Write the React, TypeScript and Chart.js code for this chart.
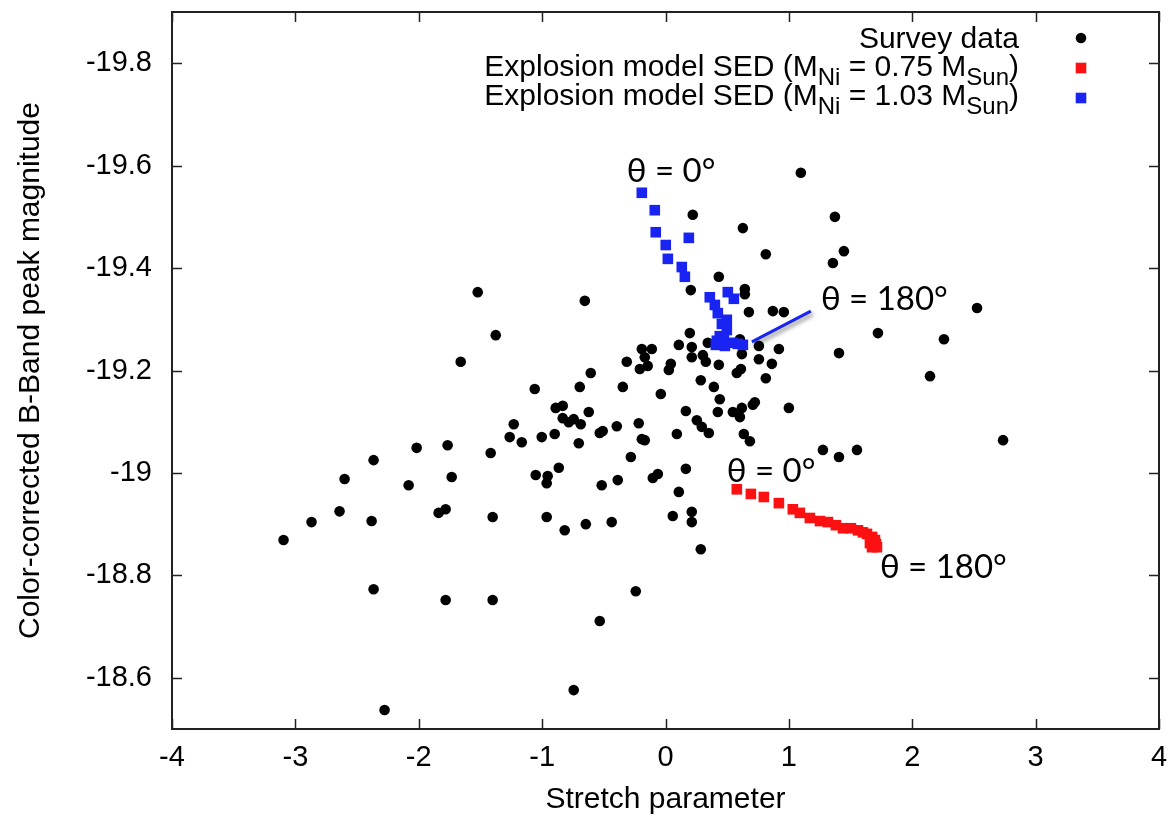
import { useEffect, useRef } from "react";
import { Chart, registerables } from "chart.js";

Chart.register(...registerables);

// ---------------- data ----------------
const SURVEY_X = [
  -1.522, -0.654, -1.376, -1.66, -0.192, -0.111, -0.168, -0.314, -0.606, -0.208,
  -0.144, -1.06, -0.695, -0.346, -0.038, -0.89, -0.833, -0.833, -0.784, -0.744,
  -0.687, -0.622, -1.23, -1.263, -1.165, -1.003, -0.898, -0.703, -0.533, -0.509,
  -0.395, -0.217, -0.192, -0.168, -0.281, -1.417, -2.017, -1.766, -2.366, -2.601,
  -2.082, -1.733, -1.052, -0.955, -0.963, -0.865, -0.517, -0.387, -0.103, -0.062,
  -3.096, -2.869, -2.642, -2.382, -1.839, -1.782, -1.401, -0.963, -0.817, -0.646,
  -0.436, 0.059, 0.213, 0.213, 0.286, -2.366, -1.782, -1.401, -0.241, -0.533,
  -0.744, -2.277, 0.197, 0.108, 0.213, 0.213, 0.343, 0.603, 0.619, 0.757,
  0.919, 0.757, 0.862, 0.303, 0.327, 0.432, 0.578, 0.611, 0.043, 0.027,
  0.286, 0.813, 0.392, 0.44, 0.708, 0.724, 1.0, 0.165, 0.254, 0.294,
  0.351, 0.424, 0.546, 0.619, 0.603, 0.635, 0.684, 0.092, 0.165, 0.108,
  1.276, 1.406, 1.552, 2.736, 2.144, 1.097, 0.221, 1.373, 0.627, 0.813,
  1.446, 1.357, 0.432, 0.205, 0.643, 0.643, 0.676, 0.87, 0.959, 2.525,
  1.722, 2.257, 1.406,
];
const SURVEY_Y = [
  -19.353, -19.336, -19.269, -19.217, -19.242, -19.242, -19.226, -19.217, -19.195, -19.203,
  -19.209, -19.164, -19.168, -19.168, -19.154, -19.127, -19.131, -19.107, -19.099, -19.105,
  -19.095, -19.119, -19.095, -19.07, -19.06, -19.07, -19.076, -19.058, -19.078, -19.082,
  -19.091, -19.097, -19.066, -19.064, -19.031, -19.039, -19.049, -19.054, -19.025, -18.988,
  -18.976, -18.992, -18.996, -18.994, -18.98, -19.01, -18.976, -18.986, -18.99, -18.998,
  -18.869, -18.904, -18.925, -18.906, -18.922, -18.929, -18.914, -18.914, -18.888, -18.9,
  -18.904, -18.916, -18.924, -18.904, -18.851, -18.773, -18.752, -18.752, -18.769, -18.711,
  -18.576, -18.537, -19.273, -19.25, -19.246, -19.226, -19.254, -19.261, -19.232, -19.248,
  -19.242, -19.222, -19.213, -19.23, -19.217, -19.211, -19.195, -19.203, -19.213, -19.201,
  -19.181, -19.185, -19.168, -19.144, -19.133, -19.138, -19.127, -19.121, -19.103, -19.09,
  -19.078, -19.119, -19.119, -19.127, -19.109, -19.076, -19.062, -19.076, -19.008, -18.963,
  -19.045, -19.031, -19.045, -19.064, -19.189, -19.586, -19.504, -19.5, -19.478, -19.427,
  -19.433, -19.41, -19.383, -19.357, -19.359, -19.349, -19.314, -19.316, -19.314, -19.322,
  -19.273, -19.261, -19.234,
];

const MODEL_075_X = [
  0.578, 0.692, 0.797, 0.919, 1.032, 1.089, 1.17, 1.252, 1.316, 1.381, 1.438,
  1.503, 1.56, 1.6, 1.633, 1.674, 1.698, 1.657, 1.706, 1.674, 1.714,
];
const MODEL_075_Y = [
  -18.968, -18.959, -18.953, -18.941, -18.929, -18.922, -18.912, -18.906, -18.904, -18.898, -18.892,
  -18.892, -18.888, -18.884, -18.881, -18.875, -18.869, -18.863, -18.861, -18.855, -18.855,
];

const MODEL_103_X = [
  -0.192, -0.087, -0.079, 0.189, 0.002, 0.019, 0.132, 0.157, 0.505, 0.359, 0.554, 0.4,
  0.424, 0.497, 0.457, 0.497, 0.44, 0.473, 0.416, 0.546, 0.627, 0.586, 0.408, 0.481,
];
const MODEL_103_Y = [
  -19.547, -19.513, -19.47, -19.459, -19.445, -19.418, -19.402, -19.383, -19.353, -19.343, -19.34, -19.328,
  -19.312, -19.299, -19.291, -19.279, -19.267, -19.261, -19.258, -19.254, -19.25, -19.252, -19.25, -19.248,
];

const X_TICKS = [-4, -3, -2, -1, 0, 1, 2, 3, 4];
const Y_TICKS = [-19.8, -19.6, -19.4, -19.2, -19, -18.8, -18.6];
const Y_TICK_LABELS = ["-19.8", "-19.6", "-19.4", "-19.2", "-19", "-18.8", "-18.6"];

const X_TITLE = "Stretch parameter";
const Y_TITLE = "Color-corrected B-Band peak magnitude";
const LEGEND_SURVEY = "Survey data";
const LEGEND_075 = [
  { t: "Explosion model SED (M", sub: false },
  { t: "Ni", sub: true },
  { t: " = 0.75 M", sub: false },
  { t: "Sun", sub: true },
  { t: ")", sub: false },
];
const LEGEND_103 = [
  { t: "Explosion model SED (M", sub: false },
  { t: "Ni", sub: true },
  { t: " = 1.03 M", sub: false },
  { t: "Sun", sub: true },
  { t: ")", sub: false },
];

// annotation anchors (data coordinates): text left / baseline
const ANNOTATIONS = [
  { text: "θ = 0°", x: -0.314, y: -19.568 },
  { text: "θ = 180°", x: 1.26, y: -19.318 },
  { text: "θ = 0°", x: 0.497, y: -18.982 },
  { text: "θ = 180°", x: 1.738, y: -18.795 },
];
const POINTER_LINE = { x1: 0.7, y1: -19.256, x2: 1.178, y2: -19.316 };

// ---------------- styles ----------------
const BLACK = "#000000";
const RED = "#fb1111";
const BLUE = "#1a24f2";
const FONT = "'Liberation Sans', Arial, Helvetica, sans-serif";
const ANNOT_FONT = "Lato, 'Open Sans', sans-serif";

const framePlugin = {
  id: "frameAndExtras",
  afterDraw(chart: any) {
    const ctx = chart.ctx as CanvasRenderingContext2D;
    const { left, right, top, bottom } = chart.chartArea;
    const xs = chart.scales.x;
    const ys = chart.scales.y;
    ctx.save();
    // ticks (inward, mirrored)
    ctx.strokeStyle = "#222";
    ctx.lineWidth = 1.5;
    const TL = 10;
    ctx.beginPath();
    X_TICKS.forEach((v) => {
      const px = Math.round(xs.getPixelForValue(v)) + 0.5;
      ctx.moveTo(px, bottom);
      ctx.lineTo(px, bottom - TL);
      ctx.moveTo(px, top);
      ctx.lineTo(px, top + TL);
    });
    Y_TICKS.forEach((v) => {
      const py = Math.round(ys.getPixelForValue(v)) + 0.5;
      ctx.moveTo(left, py);
      ctx.lineTo(left + TL, py);
      ctx.moveTo(right, py);
      ctx.lineTo(right - TL, py);
    });
    ctx.stroke();
    // frame
    ctx.lineWidth = 2;
    ctx.strokeRect(left, top, right - left, bottom - top);

    // legend
    const mainFont = `30px ${FONT}`;
    const subFont = `24px ${FONT}`;
    const xRight = 1019;
    const markerX = 1081;
    ctx.fillStyle = BLACK;
    ctx.textBaseline = "alphabetic";
    ctx.textAlign = "left";
    ctx.font = mainFont;
    const sw = ctx.measureText(LEGEND_SURVEY).width;
    ctx.fillText(LEGEND_SURVEY, xRight - sw, 48);
    const drawRich = (parts: { t: string; sub: boolean }[], base: number) => {
      const widths = parts.map((p) => {
        ctx.font = p.sub ? subFont : mainFont;
        return ctx.measureText(p.t).width;
      });
      let x = xRight - widths.reduce((a, b) => a + b, 0);
      parts.forEach((p, i) => {
        ctx.font = p.sub ? subFont : mainFont;
        ctx.fillText(p.t, x, p.sub ? base + 9 : base);
        x += widths[i];
      });
    };
    drawRich(LEGEND_075, 76);
    drawRich(LEGEND_103, 105);
    // legend markers
    ctx.beginPath();
    ctx.arc(markerX, 38, 5.3, 0, Math.PI * 2);
    ctx.fill();
    ctx.fillStyle = RED;
    ctx.fillRect(markerX - 5.3, 68 - 5.3, 10.6, 10.6);
    ctx.fillStyle = BLUE;
    ctx.fillRect(markerX - 5.3, 98 - 5.3, 10.6, 10.6);

    // pointer line with shadow
    ctx.save();
    ctx.strokeStyle = BLUE;
    ctx.lineWidth = 3;
    ctx.shadowColor = "rgba(0,0,0,0.45)";
    ctx.shadowBlur = 4;
    ctx.shadowOffsetX = 2;
    ctx.shadowOffsetY = 3;
    ctx.beginPath();
    ctx.moveTo(xs.getPixelForValue(POINTER_LINE.x1), ys.getPixelForValue(POINTER_LINE.y1));
    ctx.lineTo(xs.getPixelForValue(POINTER_LINE.x2), ys.getPixelForValue(POINTER_LINE.y2));
    ctx.stroke();
    ctx.restore();

    // annotations
    ctx.fillStyle = BLACK;
    ctx.font = `33px ${ANNOT_FONT}`;
    ctx.textAlign = "left";
    ctx.textBaseline = "alphabetic";
    ANNOTATIONS.forEach((a) => {
      ctx.fillText(a.text, xs.getPixelForValue(a.x), ys.getPixelForValue(a.y));
    });
    ctx.restore();
  },
};

const zip = (xs: number[], ys: number[]) => xs.map((x, i) => ({ x, y: ys[i] }));

export default function App() {
  const ref = useRef<HTMLCanvasElement | null>(null);
  useEffect(() => {
    if (!ref.current) return;
    const tickFont = { family: FONT, size: 29 };
    const titleFont = { family: FONT, size: 30 };
    const chart = new Chart(ref.current, {
      type: "scatter",
      data: {
        datasets: [
          {
            label: "Explosion model SED (MNi = 1.03 MSun)",
            data: zip(MODEL_103_X, MODEL_103_Y),
            pointStyle: "rect",
            pointRadius: 7.5,
            pointBorderWidth: 0,
            backgroundColor: BLUE,
            borderColor: BLUE,
          },
          {
            label: "Explosion model SED (MNi = 0.75 MSun)",
            data: zip(MODEL_075_X, MODEL_075_Y),
            pointStyle: "rect",
            pointRadius: 7.5,
            pointBorderWidth: 0,
            backgroundColor: RED,
            borderColor: RED,
          },
          {
            label: "Survey data",
            data: zip(SURVEY_X, SURVEY_Y),
            pointStyle: "circle",
            pointRadius: 5.3,
            pointBorderWidth: 0,
            backgroundColor: BLACK,
            borderColor: BLACK,
          },
        ],
      },
      options: {
        responsive: false,
        animation: false,
        devicePixelRatio: 1,
        layout: { padding: { top: 12, right: 9, left: 0, bottom: 0 } },
        plugins: {
          legend: { display: false },
          tooltip: { enabled: false },
        },
        scales: {
          x: {
            type: "linear",
            min: -4,
            max: 4,
            afterBuildTicks: (s: any) => {
              s.ticks = X_TICKS.map((v) => ({ value: v }));
            },
            afterFit: (s: any) => {
              s.height = 92;
              s.paddingLeft = 0;
              s.paddingRight = 0;
              s.paddingTop = 0;
              s.paddingBottom = 0;
            },
            grid: { display: false, drawTicks: false },
            border: { display: false },
            ticks: {
              font: tickFont,
              color: BLACK,
              padding: 12,
              maxRotation: 0,
              autoSkip: false,
              callback: (v: any) => String(v),
            },
            title: {
              display: true,
              text: X_TITLE,
              font: titleFont,
              color: BLACK,
              padding: { top: 0, bottom: 3 },
            },
          },
          y: {
            type: "linear",
            reverse: true,
            min: -19.9,
            max: -18.5,
            afterBuildTicks: (s: any) => {
              s.ticks = Y_TICKS.map((v) => ({ value: v }));
            },
            afterFit: (s: any) => {
              s.width = 172;
              s.paddingLeft = 0;
              s.paddingRight = 0;
              s.paddingTop = 0;
              s.paddingBottom = 0;
            },
            grid: { display: false, drawTicks: false },
            border: { display: false },
            ticks: {
              font: tickFont,
              color: BLACK,
              padding: 20,
              autoSkip: false,
              callback: (v: any) => {
                const k = Y_TICKS.findIndex((t) => Math.abs(t - Number(v)) < 1e-6);
                return k >= 0 ? Y_TICK_LABELS[k] : "";
              },
            },
            title: {
              display: true,
              text: Y_TITLE,
              font: titleFont,
              color: BLACK,
              padding: { top: 13, bottom: 0 },
            },
          },
        },
      },
      plugins: [framePlugin],
    } as any);
    return () => chart.destroy();
  }, []);
  return (
    <div style={{ position: "absolute", left: 0, top: 0, width: 1168, height: 821, background: "#fff" }}>
      <canvas ref={ref} width={1168} height={821} style={{ display: "block" }} />
    </div>
  );
}
